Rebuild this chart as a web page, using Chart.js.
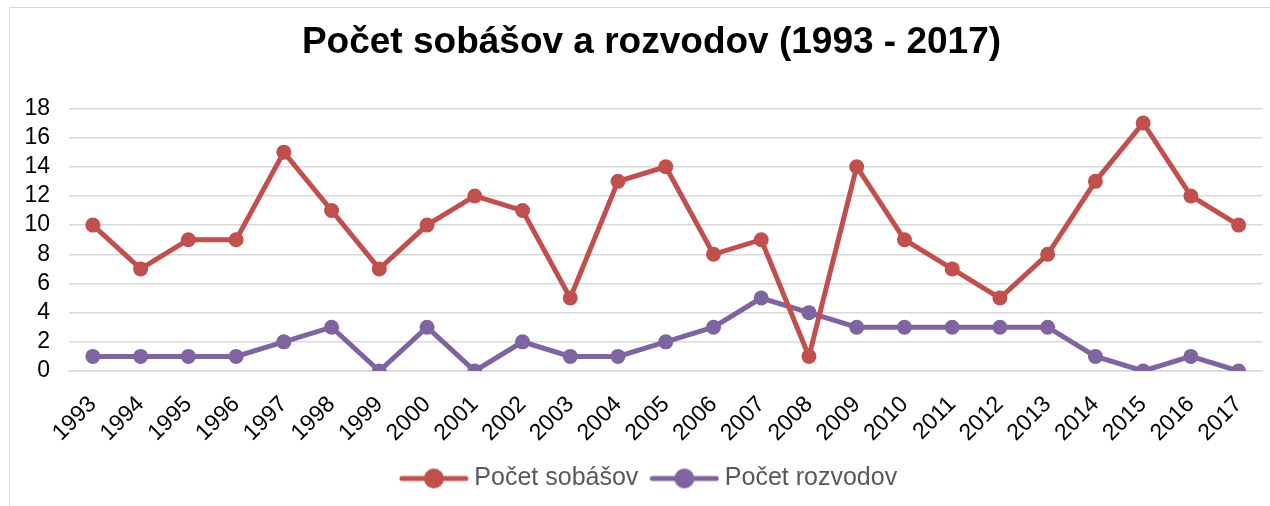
<!DOCTYPE html>
<html>
<head>
<meta charset="utf-8">
<script src="https://cdn.jsdelivr.net/npm/chart.js@4.4.1/dist/chart.umd.min.js"></script>
<style>
  html, body { margin: 0; padding: 0; background: #fff; }
  #wrap { position: absolute; left: 0; top: 0; width: 1270px; height: 506px; }
  #frame { position: absolute; left: 9px; top: 7px; width: 1280px; height: 520px; border: 1px solid #d9d9d9; }
</style>
</head>
<body>
<div id="frame"></div>
<div id="wrap"><canvas id="lineChart" width="1270" height="506"></canvas></div>
<script>
var years = ["1993","1994","1995","1996","1997","1998","1999","2000","2001","2002","2003","2004","2005",
             "2006","2007","2008","2009","2010","2011","2012","2013","2014","2015","2016","2017"];
var sobasov = [10, 7, 9, 9, 15, 11, 7, 10, 12, 11, 5, 13, 14, 8, 9, 1, 14, 9, 7, 5, 8, 13, 17, 12, 10];
var rozvodov = [1, 1, 1, 1, 2, 3, 0, 3, 0, 2, 1, 1, 2, 3, 5, 4, 3, 3, 3, 3, 3, 1, 0, 1, 0];

var red = "#C0504D";
var purple = "#8064A2";
var font = "Liberation Sans, Arial, sans-serif";

// legend marker: line with a dot on it
function legendMark(color) {
    var c = document.createElement("canvas");
    c.width = 70; c.height = 24;
    var g = c.getContext("2d");
    g.strokeStyle = color;
    g.lineWidth = 5;
    g.lineCap = "round";
    g.beginPath(); g.moveTo(3, 12); g.lineTo(67, 12); g.stroke();
    g.fillStyle = color;
    g.beginPath(); g.arc(35, 12, 10, 0, Math.PI * 2); g.fill();
    return c;
}

// title and legend are centred on the outer frame, not on the canvas
var shiftBoxes = {
    id: "shiftBoxes",
    afterLayout: function (chart) {
        if (chart.titleBlock) chart.titleBlock.left += 38;
        if (chart.legend) chart.legend.left += 38;
    }
};

var lineData = {
    labels: years,
    datasets: [
        {
            label: "Počet sobášov",
            data: sobasov,
            borderColor: red,
            backgroundColor: red,
            pointBackgroundColor: red,
            borderWidth: 5,
            pointRadius: 7.5,
            pointBorderWidth: 0,
            tension: 0
        },
        {
            label: "Počet rozvodov",
            data: rozvodov,
            borderColor: purple,
            backgroundColor: purple,
            pointBackgroundColor: purple,
            borderWidth: 5,
            pointRadius: 7.5,
            pointBorderWidth: 0,
            tension: 0
        }
    ]
};

var marks = [legendMark(red), legendMark(purple)];

var lineOptions = {
    responsive: false,
    animation: false,
    layout: { padding: { left: 0, right: 5, top: 0, bottom: 5 } },
    plugins: {
        title: {
            display: true,
            text: "Počet sobášov a rozvodov (1993 - 2017)",
            color: "#000",
            font: { family: font, size: 37, weight: "bold" },
            padding: { top: 21, bottom: 43 }
        },
        legend: {
            position: "bottom",
            labels: {
                color: "#595959",
                font: { family: font, size: 25 },
                usePointStyle: true,
                pointStyleWidth: 56,
                padding: 18,
                generateLabels: function (chart) {
                    return chart.data.datasets.map(function (ds, i) {
                        return {
                            text: ds.label,
                            datasetIndex: i,
                            pointStyle: marks[i],
                            fontColor: "#595959",
                            hidden: false,
                            lineWidth: 0
                        };
                    });
                }
            }
        },
        tooltip: { enabled: false }
    },
    scales: {
        x: {
            offset: true,
            grid: { display: false, drawTicks: false },
            border: { display: true, color: "#d9d9d9", width: 1.5 },
            ticks: {
                color: "#000",
                font: { family: font, size: 23 },
                maxRotation: 45,
                minRotation: 45,
                autoSkip: false,
                padding: 20
            },
            afterFit: function (scale) {
                scale.height = 77;
                scale.paddingLeft = 0;
                scale.paddingRight = 0;
            }
        },
        y: {
            min: 0,
            max: 18,
            grid: { color: "#d9d9d9", lineWidth: 1.5, drawTicks: false },
            border: { display: false },
            ticks: {
                stepSize: 2,
                autoSkip: false,
                color: "#000",
                font: { family: font, size: 23 },
                padding: 19
            },
            afterFit: function (scale) { scale.width = 69; }
        }
    }
};

var ctx = document.getElementById("lineChart").getContext("2d");
new Chart(ctx, { type: "line", data: lineData, options: lineOptions, plugins: [shiftBoxes] });
</script>
</body>
</html>
